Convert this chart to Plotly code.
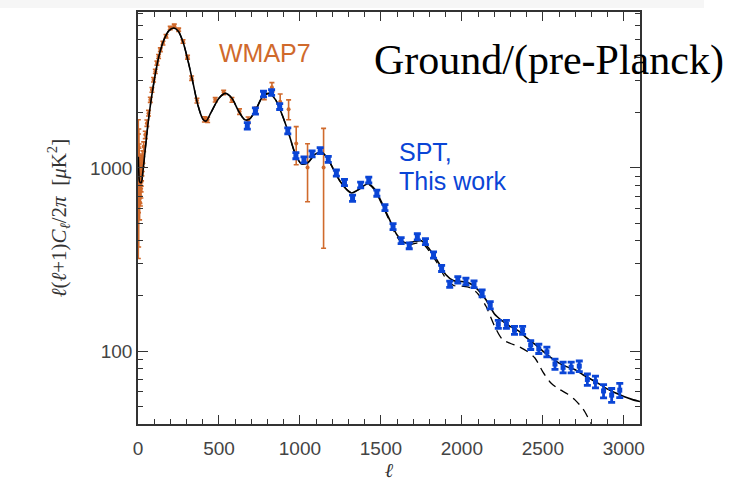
import plotly.graph_objects as go

# ---------------- data ----------------
# Theory model (solid)
model_l = [2, 5, 10, 20, 30, 40, 50, 70, 100, 130, 160, 190, 220, 250, 280, 310, 340, 370, 400, 420,
           450, 500, 540, 580, 620, 660, 690, 730, 770, 810, 850, 890, 930, 970, 1010, 1050, 1090,
           1130, 1170, 1210, 1250, 1290, 1320, 1360, 1420, 1460, 1500, 1550, 1600, 1650, 1700, 1750,
           1800, 1850, 1900, 1950, 2000, 2050, 2100, 2150, 2200, 2250, 2300, 2350, 2400, 2450, 2500,
           2550, 2600, 2650, 2700, 2750, 2800, 2850, 2900, 2950, 3000, 3050, 3100]
model_d = [1150, 950, 840, 830, 950, 1150, 1400, 2000, 3000, 4100, 5000, 5600, 5800, 5550, 4800, 3800,
           2900, 2200, 1850, 1800, 2000, 2400, 2550, 2400, 2050, 1830, 1850, 2100, 2450, 2550, 2350,
           1950, 1550, 1200, 1050, 1070, 1180, 1220, 1130, 970, 840, 760, 730, 760, 820, 770, 660,
           530, 430, 390, 395, 400, 360, 310, 262, 242, 240, 234, 216, 190, 160, 146, 136, 129, 118,
           109, 100, 92, 86, 82, 79, 74, 70, 66, 62, 59, 56.5, 54.5, 53]

# Primary-only model (dashed)
dash_l = [2, 5, 10, 20, 30, 40, 50, 70, 100, 130, 160, 190, 220, 250, 280, 310, 340, 370, 400, 420,
          450, 500, 540, 580, 620, 660, 690, 730, 770, 810, 850, 890, 930, 970, 1010, 1050, 1090,
          1130, 1170, 1210, 1250, 1290, 1320, 1360, 1420, 1460, 1500, 1550, 1600, 1650, 1700, 1750,
          1800, 1850, 1900, 1950, 2000, 2050, 2100, 2150, 2200, 2250, 2300, 2350, 2400, 2450, 2500,
          2550, 2600, 2650, 2700, 2750, 2800, 2830]
dash_d = [1150, 950, 840, 830, 950, 1150, 1400, 2000, 3000, 4100, 5000, 5600, 5800, 5550, 4800, 3800,
          2900, 2200, 1850, 1800, 2000, 2400, 2550, 2400, 2050, 1830, 1850, 2100, 2450, 2550, 2350,
          1950, 1550, 1200, 1050, 1070, 1180, 1220, 1130, 970, 840, 760, 730, 760, 815, 760, 650,
          520, 420, 378, 385, 390, 350, 300, 250, 228, 226, 222, 205, 175, 138, 116, 110, 106, 100,
          92, 77, 67, 62, 58.5, 54, 48, 40, 36]

# WMAP7 bandpowers
wmap_l = [2, 3, 4, 5, 6, 7, 8, 9, 10, 11, 12, 13, 14, 15, 16, 17, 18, 19, 20, 22, 24, 26, 28, 30,
          35, 45, 55, 65, 76, 86, 96, 107, 117, 127, 138, 154, 173, 199, 224, 251, 278, 306, 331,
          364, 410, 430, 477, 529, 580, 627, 680, 730, 780, 827, 878, 930, 977, 1047, 1146]
wmap_d = [1075, 1050, 750, 1300, 1000, 1100, 900, 850, 700, 1000, 800, 850, 900, 750, 900, 950, 800,
          850, 900, 950, 1000, 1050, 1100, 1150,
          1307, 1515, 1755, 1990, 2353, 2667, 3028, 3364, 3733, 4057, 4415, 4800, 5230, 5800, 5970,
          5680, 4900, 4020, 3090, 2330, 1842, 1830, 2353, 2580, 2353, 2030, 1820, 2060, 2480, 2760,
          2300, 2090, 1360, 1004, 1004]
wmap_e = [755, 480, 380, 330, 280, 250, 220, 200, 180, 170, 160, 150, 140, 130, 125, 120, 115, 110,
          105, 100, 95, 95, 90, 90,
          80, 70, 70, 70, 75, 80, 85, 90, 95, 100, 105, 110, 115, 120, 120, 115, 105, 95, 85, 70,
          60, 60, 65, 70, 70, 70, 75, 90, 120, 160, 230, 260, 320, 350, 640]

# SPT bandpowers (this work)
spt_l = [675, 725, 775, 825, 875, 925, 975, 1025, 1075, 1125, 1175, 1225, 1275, 1325, 1375, 1425,
         1475, 1525, 1575, 1625, 1675, 1725, 1775, 1825, 1875, 1925, 1975, 2025, 2075, 2125, 2175,
         2225, 2275, 2325, 2375, 2425, 2475, 2525, 2575, 2625, 2675, 2725, 2775, 2825, 2875, 2925,
         2975]
spt_d = [1697, 2046, 2530, 2580, 2163, 1592, 1167, 1106, 1193, 1243, 1115, 938, 833, 683, 807, 859,
         728, 607, 478, 401, 376, 421, 396, 335, 283, 232, 245, 240, 232, 207, 178, 140, 140, 130,
         130, 108, 103, 99, 85, 81.5, 81.5, 82.8, 70, 68, 60.6, 57.5, 61.2]
spt_e = [70, 80, 90, 90, 80, 60, 45, 42, 45, 46, 42, 36, 32, 27, 30, 32, 28, 23, 18, 15, 14, 16, 15,
         13, 11, 9, 10, 10, 10, 9, 8, 7, 7, 6.5, 6.5, 6, 6, 6, 5.5, 5.5, 5.5, 5.5, 5, 5, 5, 5, 5.5]

x_ticks = [0, 500, 1000, 1500, 2000, 2500, 3000]
x_minor = [l for l in range(100, 3100, 100) if l % 500 != 0]
y_ticks = [100, 1000]
y_ticktext = ["100", "1000"]
y_minor = [40, 50, 60, 70, 80, 90, 200, 300, 400, 500, 600, 700, 800, 900, 2000, 3000, 4000, 5000,
           6000, 7000]

# ---------------- styles ----------------
ORANGE = "#d06a2c"
BLUE = "#0a45d6"
AXIS = "#333333"
SANS = "Liberation Sans, Arial, sans-serif"
SERIF = "Liberation Serif, Times New Roman, serif"

fig = go.Figure()

fig.add_trace(go.Scatter(x=dash_l, y=dash_d, mode="lines",
                         line=dict(color="black", width=1.3, dash="9px,6px", shape="spline", smoothing=0.8),
                         showlegend=False, hoverinfo="skip"))
fig.add_trace(go.Scatter(x=wmap_l, y=wmap_d, mode="markers",
                         marker=dict(color=ORANGE, size=4),
                         error_y=dict(type="data", array=wmap_e, color=ORANGE, thickness=1.6, width=2.5),
                         showlegend=False))
fig.add_trace(go.Scatter(x=model_l, y=model_d, mode="lines",
                         line=dict(color="black", width=1.6, shape="spline", smoothing=0.8),
                         showlegend=False, hoverinfo="skip"))
fig.add_trace(go.Scatter(x=spt_l, y=spt_d, mode="markers",
                         marker=dict(color=BLUE, size=5, symbol="square"),
                         error_y=dict(type="data", array=spt_e, color=BLUE, thickness=2.8, width=3.5),
                         showlegend=False))

W, H = 735, 481
L, R, T, B = 138, 95, 12, 57
pw, ph = W - L - R, H - T - B


def px(xp):
    return (xp - L) / pw


def py(yp):
    return (H - B - yp) / ph


fig.update_layout(
    width=W, height=H,
    margin=dict(l=L, r=R, t=T, b=B, autoexpand=False),
    paper_bgcolor="white", plot_bgcolor="white",
    font=dict(family=SANS, color=AXIS),
    shapes=[dict(type="rect", xref="paper", yref="paper", x0=px(0), x1=px(704), y0=py(8), y1=py(0),
                 fillcolor="#f6f6f6", line=dict(width=0), layer="below")],
    annotations=[
        dict(text="WMAP7", xref="paper", yref="paper", x=px(217), y=py(53), xanchor="left",
             yanchor="middle", showarrow=False, font=dict(size=25, color=ORANGE, family=SANS)),
        dict(text="Ground/(pre-Planck)", xref="paper", yref="paper", x=px(372), y=py(61),
             xanchor="left", yanchor="middle", showarrow=False,
             font=dict(size=42, color="black", family=SERIF)),
        dict(text="SPT,", xref="paper", yref="paper", x=px(397), y=py(152), xanchor="left",
             yanchor="middle", showarrow=False, font=dict(size=25, color=BLUE, family=SANS)),
        dict(text="This work", xref="paper", yref="paper", x=px(397), y=py(181), xanchor="left",
             yanchor="middle", showarrow=False, font=dict(size=25, color=BLUE, family=SANS)),
    ],
)

fig.update_xaxes(
    range=[0, 3100], tickvals=x_ticks, ticks="inside", ticklen=9, tickwidth=1.2, tickcolor=AXIS,
    minor=dict(tickvals=x_minor, ticks="inside", ticklen=5, tickcolor=AXIS, tickwidth=1),
    showline=True, linecolor=AXIS, linewidth=1.6, mirror="ticks", showgrid=False, zeroline=False,
    tickfont=dict(size=19, color="#444444"), ticklabelstandoff=6, automargin=False,
    title=dict(text="<i>ℓ</i>", font=dict(size=20, family=SERIF), standoff=0),
)
fig.update_yaxes(
    type="log", range=[1.602, 3.851], tickvals=y_ticks, ticktext=y_ticktext, ticks="inside",
    ticklen=10, tickwidth=1.2, tickcolor=AXIS,
    minor=dict(tickvals=y_minor, ticks="inside", ticklen=5, tickcolor=AXIS, tickwidth=1),
    showline=True, linecolor=AXIS, linewidth=1.6, mirror="ticks", showgrid=False, zeroline=False,
    tickfont=dict(size=19, color="#444444"), automargin=False,
    title=dict(text="<i>ℓ</i>(<i>ℓ</i>+1)<i>C<sub>ℓ</sub></i>/2<i>π</i>  [<i>μ</i>K<sup>2</sup>]",
               font=dict(size=21, family=SERIF), standoff=18),
)

fig.write_html("out.html", post_script="document.body.style.margin='0px';",
               config={"displayModeBar": False})
